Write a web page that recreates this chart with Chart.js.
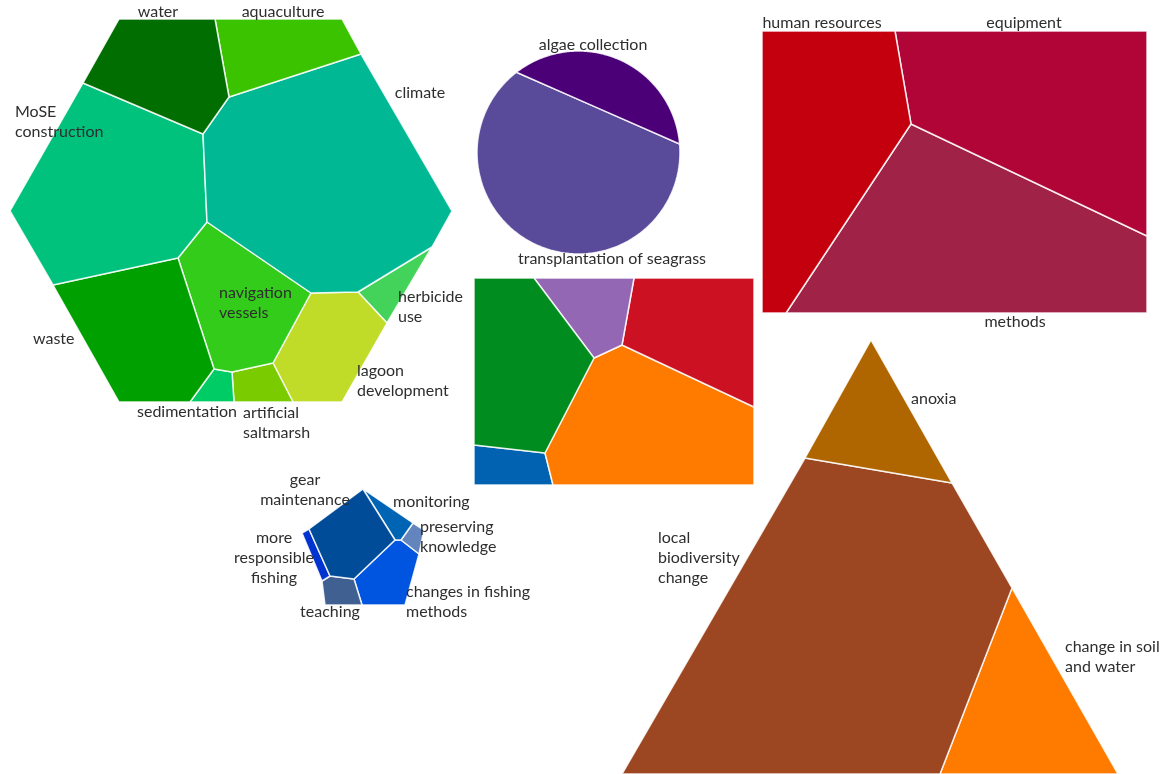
<!DOCTYPE html>
<html>
<head>
<meta charset="utf-8">
<script src="https://cdn.jsdelivr.net/npm/chart.js@4/dist/chart.umd.min.js"></script>
<style>
  body { margin: 0; background: #fff; }
  #wrap { width: 1161px; height: 774px; }
</style>
</head>
<body>
<div id="wrap"><canvas id="myChart"></canvas></div>
<script>
// hexagon voronoi cells (pressures)
const hexNames = ['water', 'aquaculture', 'climate', 'MoSE construction', 'waste', 'navigation vessels',
  'sedimentation', 'artificial saltmarsh', 'lagoon development', 'herbicide use']
const hexCells = [
  [[119, 19], [215, 19], [229, 97], [203, 134], [83, 83]],
  [[215, 19], [342, 19], [361, 54], [229, 97]],
  [[229, 97], [361, 54], [452, 211], [432, 247], [358, 292], [311, 293], [207, 222], [203, 134]],
  [[83, 83], [203, 134], [207, 222], [178, 258], [53, 285], [10, 211]],
  [[53, 285], [178, 258], [214, 369], [190, 402], [119, 402]],
  [[178, 258], [207, 222], [311, 293], [273, 363], [232, 372], [214, 369]],
  [[214, 369], [232, 372], [234, 402], [190, 402]],
  [[232, 372], [273, 363], [293, 402], [234, 402]],
  [[273, 363], [311, 293], [358, 292], [387, 323], [342, 402], [293, 402]],
  [[358, 292], [432, 247], [387, 323]]
]
const hexColors = ['#006e00', '#3cc300', '#00b894', '#00c27c', '#00a000', '#33cc1a',
  '#00cc66', '#7acc00', '#c0dc28', '#44d35a']

// circle split by one chord (actions)
const circleNames = ['algae collection', 'transplantation of seagrass']
const circleCenter = [578.5, 152.5]
const circleRadius = 101.5
const chordAngles = [-127.7, -4.8]
const circleColors = ['#4b0078', '#5a4a9a']

// middle rectangle, no labels
const rectCells = [
  [[474, 278], [534, 278], [594, 358], [545, 453], [474, 445]],
  [[534, 278], [634, 278], [622, 345], [594, 358]],
  [[634, 278], [754, 278], [754, 407], [622, 345]],
  [[594, 358], [622, 345], [754, 407], [754, 485], [553, 485], [545, 453]],
  [[474, 445], [545, 453], [553, 485], [474, 485]]
]
const rectColors = ['#008c1e', '#9467b5', '#cc1122', '#ff7b00', '#0062b0']

// red rectangle (barriers)
const redNames = ['human resources', 'equipment', 'methods']
const redCells = [
  [[762, 31], [895, 31], [911, 124], [786, 313], [762, 313]],
  [[895, 31], [1147, 31], [1147, 236], [911, 124]],
  [[911, 124], [1147, 236], [1147, 313], [786, 313]]
]
const redColors = ['#c4000f', '#b10538', '#a02247']

// pentagon (fishing)
const pentNames = ['gear maintenance', 'monitoring', 'preserving knowledge', 'more responsible fishing',
  'teaching', 'changes in fishing methods']
const pentCells = [
  [[309, 529], [363, 489], [395, 540], [354, 579], [330, 576]],
  [[363, 489], [413, 523], [401, 540], [395, 540]],
  [[413, 523], [424, 530], [419, 554], [401, 540]],
  [[302, 533], [309, 529], [330, 576], [322, 581]],
  [[322, 581], [330, 576], [354, 579], [362, 605], [325, 605]],
  [[395, 540], [401, 540], [419, 554], [405, 605], [362, 605], [354, 579]]
]
const pentColors = ['#004c98', '#0064b4', '#6384bc', '#0033d0', '#3f6090', '#0055e0']

// triangle (impacts)
const triNames = ['anoxia', 'local biodiversity change', 'change in soil and water']
const triCells = [
  [[871, 340], [952, 483], [805, 458]],
  [[805, 458], [952, 483], [1012, 588], [940, 774], [622, 774]],
  [[1012, 588], [1118, 774], [940, 774]]
]
const triColors = ['#b06600', '#9c4721', '#ff7b00']

// label text lines and where they sit
const labels = [
  { lines: ['water'], x: 158, y: 12, align: 'center' },
  { lines: ['aquaculture'], x: 283, y: 12, align: 'center' },
  { lines: ['climate'], x: 420, y: 93, align: 'center' },
  { lines: ['MoSE', 'construction'], x: 15, y: 112, align: 'left' },
  { lines: ['waste'], x: 33, y: 339, align: 'left' },
  { lines: ['navigation', 'vessels'], x: 219, y: 293, align: 'left' },
  { lines: ['sedimentation'], x: 137, y: 412, align: 'left' },
  { lines: ['artificial', 'saltmarsh'], x: 243, y: 413, align: 'left' },
  { lines: ['lagoon', 'development'], x: 357, y: 371, align: 'left' },
  { lines: ['herbicide', 'use'], x: 398, y: 297, align: 'left' },
  { lines: ['algae collection'], x: 593, y: 45, align: 'center' },
  { lines: ['transplantation of seagrass'], x: 612, y: 259, align: 'center' },
  { lines: ['human resources'], x: 822, y: 23, align: 'center' },
  { lines: ['equipment'], x: 1024, y: 23, align: 'center' },
  { lines: ['methods'], x: 1015, y: 322, align: 'center' },
  { lines: ['gear', 'maintenance'], x: 305, y: 480, align: 'center' },
  { lines: ['monitoring'], x: 393, y: 502, align: 'left' },
  { lines: ['preserving', 'knowledge'], x: 420, y: 527, align: 'left' },
  { lines: ['more', 'responsible', 'fishing'], x: 274, y: 538, align: 'center' },
  { lines: ['teaching'], x: 330, y: 612, align: 'center' },
  { lines: ['changes in fishing', 'methods'], x: 406, y: 592, align: 'left' },
  { lines: ['anoxia'], x: 911, y: 399, align: 'left' },
  { lines: ['local', 'biodiversity', 'change'], x: 658, y: 538, align: 'left' },
  { lines: ['change in soil', 'and water'], x: 1065, y: 647, align: 'left' }
]

const toPoints = cell => {
  let pts = cell.map(p => ({ x: p[0], y: p[1] }))
  pts.push(pts[0])
  return pts
}

// arc outline of one circle segment, start to end angle in degrees
const arcPoints = (a0, a1) => {
  let pts = []
  let steps = 90
  for (let i = 0; i <= steps; i++) {
    let a = (a0 + (a1 - a0) * i / steps) * Math.PI / 180
    pts.push({ x: circleCenter[0] + circleRadius * Math.cos(a), y: circleCenter[1] + circleRadius * Math.sin(a) })
  }
  pts.push(pts[0])
  return pts
}

const polygon = (label, points, color, tension) => {
  return {
    label: label,
    data: points,
    showLine: true,
    fill: 'shape',
    backgroundColor: color,
    borderColor: 'rgba(255,255,255,0.85)',
    borderWidth: 1.5,
    borderJoinStyle: 'round',
    pointRadius: 0,
    // a tiny tension keeps chart.js off its fast path, which flattens the circle sides
    tension: tension || 0
  }
}

let datasets = []
hexCells.forEach((c, i) => datasets.push(polygon(hexNames[i], toPoints(c), hexColors[i])))
datasets.push(polygon(circleNames[0], arcPoints(chordAngles[0], chordAngles[1]), circleColors[0], 0.0001))
datasets.push(polygon(circleNames[1], arcPoints(chordAngles[1], chordAngles[0] + 360), circleColors[1], 0.0001))
rectCells.forEach((c, i) => datasets.push(polygon('cell ' + (i + 1), toPoints(c), rectColors[i])))
redCells.forEach((c, i) => datasets.push(polygon(redNames[i], toPoints(c), redColors[i])))
pentCells.forEach((c, i) => datasets.push(polygon(pentNames[i], toPoints(c), pentColors[i])))
triCells.forEach((c, i) => datasets.push(polygon(triNames[i], toPoints(c), triColors[i])))

const labelPlugin = {
  id: 'cellLabels',
  afterDatasetsDraw(chart) {
    const ctx = chart.ctx
    const xs = chart.scales.x
    const ys = chart.scales.y
    ctx.save()
    ctx.font = '16px Lato'
    ctx.fillStyle = '#2e2e2e'
    ctx.textBaseline = 'middle'
    labels.forEach(l => {
      ctx.textAlign = l.align
      l.lines.forEach((line, k) => {
        ctx.fillText(line, xs.getPixelForValue(l.x), ys.getPixelForValue(l.y + k * 20))
      })
    })
    ctx.restore()
  }
}

new Chart(document.getElementById('myChart'), {
  type: 'scatter',
  data: { datasets: datasets },
  options: {
    responsive: true,
    maintainAspectRatio: false,
    animation: false,
    layout: { padding: 0 },
    scales: {
      x: { type: 'linear', min: 0, max: 1161, display: false },
      y: { type: 'linear', min: 0, max: 774, reverse: true, display: false }
    },
    plugins: {
      legend: { display: false },
      tooltip: { enabled: false }
    }
  },
  plugins: [labelPlugin]
})
</script>
</body>
</html>
